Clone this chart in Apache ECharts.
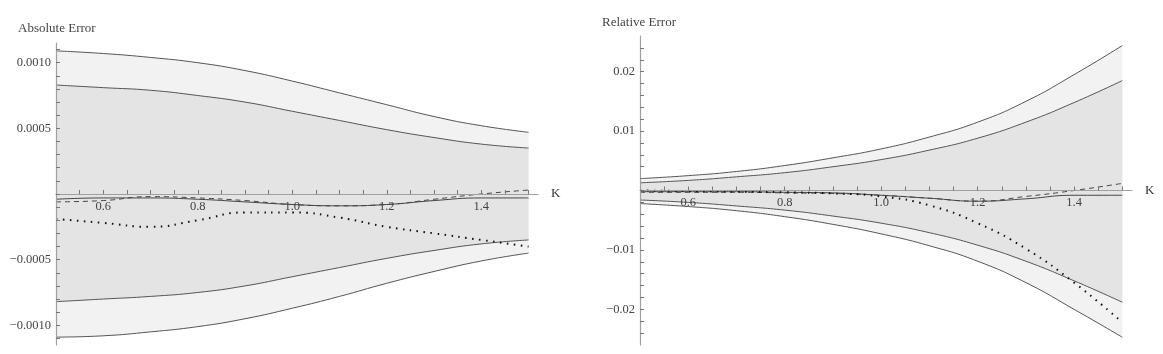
<!DOCTYPE html>
<html>
<head>
<meta charset="utf-8">
<script src="https://cdn.jsdelivr.net/npm/echarts@6/dist/echarts.min.js"></script>
<style>
  html, body { margin: 0; padding: 0; background: #fff; }
  #chart { width: 1163px; height: 354px; }
</style>
</head>
<body>
<div id="chart"></div>
<script>
// K values (shared by both panels)
var kValues = [0.5, 0.6, 0.7, 0.8, 0.9, 1.0, 1.1, 1.2, 1.3, 1.4, 1.5];

// Absolute error, in units of 1e-4
var absOuterUp = [10.9, 10.7, 10.4, 10.0, 9.4, 8.6, 7.7, 6.8, 5.9, 5.2, 4.7];
var absInnerUp = [8.3, 8.1, 7.9, 7.5, 7.0, 6.3, 5.6, 4.9, 4.3, 3.8, 3.5];
var absInnerLo = [-8.2, -8.0, -7.8, -7.5, -7.0, -6.3, -5.6, -4.9, -4.3, -3.8, -3.5];
var absOuterLo = [-10.9, -10.8, -10.5, -10.1, -9.5, -8.7, -7.8, -6.8, -5.9, -5.1, -4.5];
var absSolid   = [-0.4, -0.3, -0.3, -0.4, -0.6, -0.8, -0.9, -0.8, -0.5, -0.3, -0.3];
var absDashed  = [-0.6, -0.5, -0.2, -0.3, -0.5, -0.8, -0.9, -0.8, -0.4, 0.0, 0.3];
var absDotted  = [-1.9, -2.2, -2.5, -2.0, -1.4, -1.4, -1.8, -2.5, -3.0, -3.5, -4.0];

// Relative error, in units of 1e-2
var relOuterUp = [0.20, 0.25, 0.32, 0.42, 0.55, 0.70, 0.90, 1.15, 1.50, 1.95, 2.44];
var relInnerUp = [0.13, 0.17, 0.23, 0.30, 0.40, 0.52, 0.68, 0.88, 1.15, 1.48, 1.85];
var relInnerLo = [-0.16, -0.20, -0.26, -0.33, -0.43, -0.55, -0.71, -0.92, -1.19, -1.52, -1.88];
var relOuterLo = [-0.22, -0.27, -0.34, -0.44, -0.57, -0.73, -0.93, -1.19, -1.55, -2.00, -2.47];
var relSolid   = [-0.02, -0.02, -0.02, -0.03, -0.04, -0.08, -0.13, -0.18, -0.14, -0.08, -0.08];
var relDashed  = [-0.03, -0.03, -0.03, -0.04, -0.05, -0.08, -0.13, -0.18, -0.10, 0.00, 0.12];
var relDotted  = [0.00, -0.01, -0.02, -0.03, -0.05, -0.10, -0.25, -0.55, -0.98, -1.55, -2.22];

// tick labels
var kTicks = [0.6, 0.8, 1.0, 1.2, 1.4];
var absTicks = [-0.001, -0.0005, 0.0005, 0.001];
var relTicks = [-0.02, -0.01, 0.01, 0.02];

var serif = '"Liberation Serif", "DejaVu Serif", serif';
var bandLine = '#555';
var outerFill = '#f2f2f2';
var innerFill = '#e4e4e4';

function pairs(arr, scale) {
    return kValues.map(function (k, i) { return [k, arr[i] * scale]; });
}

function steps(from, to, step) {
    var out = [];
    var n = Math.round((to - from) / step);
    for (var i = 0; i <= n; i++) out.push(Math.round((from + i * step) / step) * step);
    return out;
}

function minusFmt(digits) {
    return function (v) {
        return v < 0 ? '\u2212' + Math.abs(v).toFixed(digits) : v.toFixed(digits);
    };
}

// x axis sits on y = 0; offset moves it up from the grid bottom
function xAxisFor(idx, offset) {
    return {
        type: 'value', gridIndex: idx, min: 0.5, max: 1.52, z: 10,
        position: 'bottom', offset: offset,
        name: 'K', nameLocation: 'end', nameGap: 13,
        nameTextStyle: { fontFamily: serif, fontSize: 13, color: '#333' },
        axisLine: { onZero: false, lineStyle: { color: '#a0a0a0', width: 1.2 } },
        axisTick: { inside: true, length: 4, customValues: steps(0.55, 1.5, 0.05), lineStyle: { color: '#777' } },
        axisLabel: { customValues: kTicks, formatter: function (v) { return v.toFixed(1); },
            fontFamily: serif, fontSize: 12.5, color: '#444', margin: 6 },
        splitLine: { show: false }
    };
}

function yAxisFor(idx, min, max, minor, labels, digits) {
    var lim = Math.floor(max / minor) * minor;
    return {
        type: 'value', gridIndex: idx, min: min, max: max, z: 10,
        axisLine: { show: true, lineStyle: { color: '#a0a0a0', width: 1.2 } },
        axisTick: { show: true, inside: true, length: 4, customValues: steps(-lim, lim, minor), lineStyle: { color: '#777' } },
        axisLabel: { customValues: labels, formatter: minusFmt(digits),
            fontFamily: serif, fontSize: 12.5, color: '#444', margin: 5 },
        splitLine: { show: false }
    };
}

function panelSeries(idx, scale, up2, up1, lo1, lo2, solid, dashed, dotted) {
    var base = { type: 'line', xAxisIndex: idx, yAxisIndex: idx, smooth: true, symbol: 'none', silent: true };
    function band(arr, fill) {
        return Object.assign({}, base, { data: pairs(arr, scale), lineStyle: { color: bandLine, width: 1 }, areaStyle: { color: fill, opacity: 1 } });
    }
    return [
        band(up2, outerFill),
        band(lo2, outerFill),
        band(up1, innerFill),
        band(lo1, innerFill),
        Object.assign({}, base, { data: pairs(solid, scale), lineStyle: { color: '#444', width: 1 } }),
        Object.assign({}, base, { data: pairs(dashed, scale), lineStyle: { color: '#444', width: 1, type: [5, 4] } }),
        Object.assign({}, base, { data: pairs(dotted, scale), lineStyle: { color: '#111', width: 2, type: [1.5, 5.5] } })
    ];
}

var myChart = echarts.init(document.getElementById('chart'));

var option = {
    animation: false,
    backgroundColor: '#fff',
    title: [
        { text: 'Absolute Error', left: 13, top: 17, textStyle: { fontFamily: serif, fontSize: 13, fontWeight: 'normal', color: '#444' } },
        { text: 'Relative Error', left: 597, top: 11, textStyle: { fontFamily: serif, fontSize: 13, fontWeight: 'normal', color: '#444' } }
    ],
    grid: [
        { left: 56, top: 43, width: 482, height: 302 },
        { left: 640, top: 36, width: 492, height: 309 }
    ],
    xAxis: [xAxisFor(0, -151), xAxisFor(1, -154.5)],
    yAxis: [
        yAxisFor(0, -0.00115, 0.00115, 0.0001, absTicks, 4),
        yAxisFor(1, -0.026, 0.026, 0.002, relTicks, 2)
    ],
    series: [].concat(
        panelSeries(0, 1e-4, absOuterUp, absInnerUp, absInnerLo, absOuterLo, absSolid, absDashed, absDotted),
        panelSeries(1, 1e-2, relOuterUp, relInnerUp, relInnerLo, relOuterLo, relSolid, relDashed, relDotted)
    )
};

myChart.setOption(option);
</script>
</body>
</html>
